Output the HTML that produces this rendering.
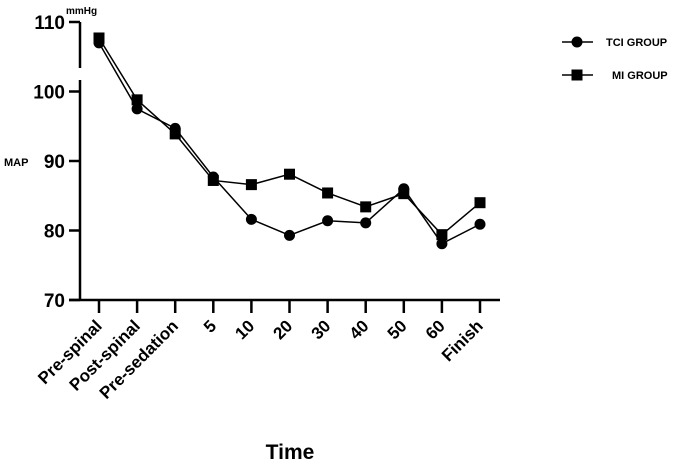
<!DOCTYPE html>
<html><head><meta charset="utf-8"><style>
body{margin:0;background:#fff;}
svg text{font-family:"Liberation Sans",Arial,sans-serif;font-weight:bold;fill:#000;}
</style></head><body>
<svg id="chart" width="685" height="460" xmlns="http://www.w3.org/2000/svg">
<g id="axes"></g><g id="series"></g>
<g>
 <g>
  <line x1="562" y1="42" x2="593" y2="42" stroke="#000" stroke-width="1.5"/>
  <circle cx="577" cy="42" r="5.5" fill="#000"/>
  <text x="606" y="46" font-size="11">TCI GROUP</text>
 </g>
 <g>
  <line x1="562" y1="75" x2="593" y2="75" stroke="#000" stroke-width="1.5"/>
  <rect x="571.5" y="69.5" width="11" height="11" fill="#000"/>
  <text x="612" y="79" font-size="11">MI GROUP</text>
 </g>
</g>
<text x="66" y="14" font-size="10">mmHg</text>
<text x="4" y="166" font-size="11">MAP</text>
<text x="290" y="459" font-size="21" text-anchor="middle">Time</text>
</svg>
<script>
const categories=["Pre-spinal","Post-spinal","Pre-sedation","5","10","20","30","40","50","60","Finish"];
const tciValues=[107.0,97.5,94.7,87.7,81.6,79.3,81.4,81.1,86.0,78.1,80.9];
const miValues=[107.7,98.8,93.9,87.2,86.6,88.1,85.4,83.4,85.3,79.4,84.0];
const yTicks=[70,80,90,100,110];
const NS="http://www.w3.org/2000/svg";
const xAt=i=>99+i*38.1;
const yAt=v=>300-(v-70)*6.95;
function mk(tag,attrs,parent){const e=document.createElementNS(NS,tag);for(const k in attrs)e.setAttribute(k,attrs[k]);parent.appendChild(e);return e;}
const axes=document.getElementById('axes');
let a=mk('line',{x1:80,y1:22,x2:80,y2:68,stroke:'#000','stroke-width':2.5},axes);


a=mk('line',{x1:80,y1:80,x2:80,y2:300,stroke:'#000','stroke-width':2.5},axes);


a=mk('line',{x1:69,y1:300,x2:500,y2:300,stroke:'#000','stroke-width':2.5},axes);


yTicks.forEach(v=>{
 const y=yAt(v);
 const t=mk('line',{x1:69,y1:y,x2:80,y2:y,stroke:'#000','stroke-width':2.5},axes);
 
 
 const l=mk('text',{x:65,y:y+7,'font-size':19,'text-anchor':'end'},axes);
 l.textContent=v;
 
 
});
categories.forEach((c,i)=>{
 const x=xAt(i);
 const t=mk('line',{x1:x,y1:300,x2:x,y2:313,stroke:'#000','stroke-width':2.5},axes);
 
 
 const l=mk('text',{x:x+4,y:327,'font-size':17,'text-anchor':'end',transform:`rotate(-45 ${x+4} 327)`},axes);
 l.textContent=c;
 
 
});
const ser=document.getElementById('series');
function drawSeries(vals,name,shape){
 const g=mk('g',{},ser);
 
 
 const p=mk('polyline',{points:vals.map((v,i)=>xAt(i)+','+yAt(v)).join(' '),fill:'none',stroke:'#000','stroke-width':1.5},g);
 
 
 vals.forEach((v,i)=>{
  let m;
  if(shape==='circle')m=mk('circle',{cx:xAt(i),cy:yAt(v),r:5.5,fill:'#000'},g);
  else m=mk('rect',{x:xAt(i)-5.5,y:yAt(v)-5.5,width:11,height:11,fill:'#000'},g);
  
  
 });
}
drawSeries(tciValues,'tci','circle');
drawSeries(miValues,'mi','square');
</script>
</body></html>
